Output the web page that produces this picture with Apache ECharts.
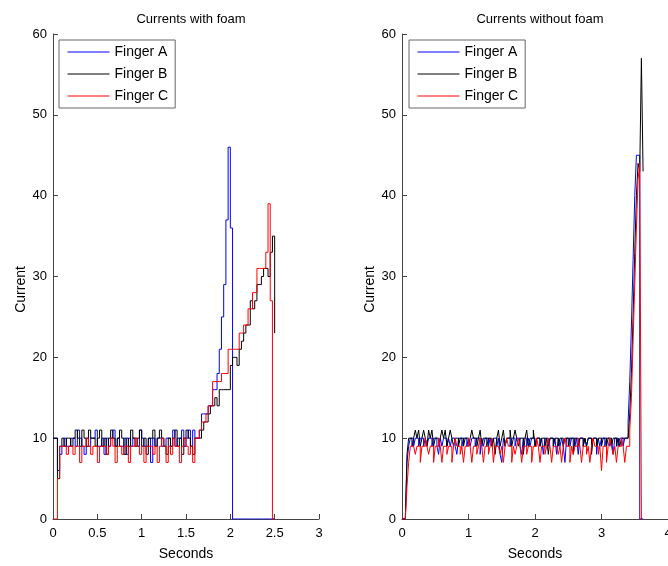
<!DOCTYPE html>
<html>
<head>
<meta charset="utf-8">
<script src="https://cdn.jsdelivr.net/npm/echarts@6/dist/echarts.min.js"></script>
<style>
  html, body { margin: 0; padding: 0; background: #fff; }
  #chart { width: 668px; height: 566px; }
</style>
</head>
<body>
<div id="chart"></div>
<script>
// sample interval of the current readings (s)
var DT = 0.025;

var seriesNames = ['Finger A', 'Finger B', 'Finger C'];
var seriesColors = ['#0000ff', '#000000', '#ff0000'];

// tick labels
var xTicksLeft = [0, 0.5, 1, 1.5, 2, 2.5, 3];
var xTicksRight = [0, 1, 2, 3, 4];
var yTicks = [0, 10, 20, 30, 40, 50, 60];

// ---- with foam (one value every DT, from t=0) ----
var foamA = [
  10,10,6,8,9,10,9,9,10,10,
  9,11,10,9,8,10,9,10,10,11,
  9,9,10,8,10,9,10,11,9,10,
  9,9,10,8,10,9,10,10,9,11,
  10,9,9,10,7,10,9,10,10,9,
  9,10,10,9,11,9,10,10,11,9,
  10,11,9,11,10,10,11,13,13,13,
  14,14,16,16,18,21,25,29,37,46,
  36,0,0,0,0,0,0,0,0,0,
  0,0,0,0,0,0,0,0,0,0,
  0
];
var foamB = [
  10,10,5,9,10,9,10,10,9,10,
  11,10,9,11,10,9,11,10,10,9,
  10,11,9,10,8,10,11,10,9,10,
  11,10,8,10,9,11,10,9,10,11,
  9,10,8,10,10,11,9,10,11,10,
  9,8,10,9,10,11,9,10,8,10,
  11,10,9,8,10,10,10,11,12,12,
  13,14,14,15,14,16,16,16,16,16,
  19,20,20,19,21,22,23,24,24,27,
  26,27,29,29,30,31,31,30,33,35,
  23
];
var foamC = [
  0,0,5,9,9,9,8,9,9,8,
  9,9,7,9,9,10,9,8,9,9,
  7,9,9,9,8,9,10,9,7,9,
  9,8,9,9,7,9,9,10,9,8,
  9,7,9,9,9,8,9,7,9,10,
  9,7,9,8,10,9,9,7,9,10,
  9,8,9,7,10,10,11,12,12,13,
  14,14,17,17,17,17,18,18,18,21,
  21,21,21,21,23,23,24,24,26,26,
  28,28,31,31,31,31,33,39,27,0,
  0
];

// ---- without foam ----
var noFoamA = [
  0,0,0,7,9,10,10,9,10,10,
  9,10,10,9,10,9,10,10,9,10,
  10,9,8,10,9,10,10,9,10,9,
  10,10,9,8,10,10,9,10,10,9,
  10,9,10,10,9,10,10,8,10,9,
  10,10,9,10,9,10,10,9,10,8,
  7,10,9,10,10,9,10,10,9,10,
  10,9,8,10,10,9,10,9,10,10,
  9,10,10,9,10,8,10,10,9,10,
  10,9,10,8,10,9,10,9,7,10,
  10,9,10,10,9,10,8,10,10,9,
  10,9,10,10,9,10,10,8,10,9,
  10,10,9,10,10,9,10,8,10,10,
  9,10,10,9,10,10,12,17,24,32,
  40,45,45,0,0,0
];
var noFoamB = [
  0,0,0,8,10,10,9,10,11,10,
  11,9,10,11,10,9,11,10,11,9,
  10,10,9,10,11,10,11,9,10,11,
  10,9,10,10,9,10,10,9,10,10,
  9,10,11,10,10,9,10,11,9,10,
  10,9,10,10,9,10,8,10,11,9,
  10,11,9,10,10,11,9,10,11,10,
  9,10,10,8,10,11,9,10,10,11,
  9,10,10,9,10,10,9,10,8,10,
  10,9,10,10,9,10,10,9,10,10,
  9,10,10,8,10,10,9,10,10,9,
  10,9,10,10,8,10,10,9,10,10,
  9,10,10,9,10,10,9,10,10,9,
  10,9,10,10,10,10,10,13,18,25,
  33,40,44,43,57,43
];
var noFoamC = [
  0,0,0,4,7,9,9,9,8,9,
  9,7,9,9,10,9,8,9,9,7,
  9,9,10,9,7,9,9,8,9,9,
  7,9,10,9,9,8,9,7,9,9,
  10,9,7,9,9,8,9,10,9,7,
  9,9,8,9,10,7,9,9,9,8,
  9,7,9,10,9,9,7,9,8,9,
  10,9,7,9,9,8,9,9,7,9,
  9,10,9,7,9,9,8,9,10,9,
  7,9,9,9,8,9,7,9,10,9,
  9,7,9,8,9,9,10,9,7,9,
  9,8,9,7,9,10,9,9,8,9,
  6,9,9,7,9,10,9,8,9,7,
  9,9,10,9,7,9,9,11,15,22,
  29,36,42,44,0,0
];

var FONT = 'Liberation Sans, Arial, Helvetica, sans-serif';

function toPoints(vals) {
  var pts = [];
  for (var i = 0; i < vals.length; i++) {
    pts.push([+(i * DT).toFixed(3), vals[i]]);
  }
  return pts;
}

function makeSeries(vals, k, idx) {
  return {
    name: seriesNames[k],
    type: 'line',
    step: 'end',
    xAxisIndex: idx,
    yAxisIndex: idx,
    symbol: 'none',
    lineStyle: { color: seriesColors[k], width: 1 },
    itemStyle: { color: seriesColors[k] },
    data: toPoints(vals)
  };
}

function makeXAxis(ticks, idx) {
  return {
    type: 'value',
    gridIndex: idx,
    min: ticks[0],
    max: ticks[ticks.length - 1],
    interval: ticks[1] - ticks[0],
    name: 'Seconds',
    nameLocation: 'middle',
    nameGap: 28,
    nameTextStyle: { fontSize: 14, color: '#000', fontFamily: FONT },
    axisLine: { show: true, lineStyle: { color: '#444', width: 1 } },
    axisTick: { show: true, inside: true, length: 5, lineStyle: { color: '#444' } },
    axisLabel: { fontSize: 13, color: '#000', fontFamily: FONT, margin: 8 },
    splitLine: { show: false }
  };
}

function makeYAxis(idx) {
  return {
    type: 'value',
    gridIndex: idx,
    min: yTicks[0],
    max: yTicks[yTicks.length - 1],
    interval: yTicks[1] - yTicks[0],
    name: 'Current',
    nameLocation: 'middle',
    nameGap: 25,
    nameTextStyle: { fontSize: 14, color: '#000', fontFamily: FONT, padding: [0, 26, 0, 0] },
    axisLine: { show: true, lineStyle: { color: '#444', width: 1 } },
    axisTick: { show: true, inside: true, length: 5, lineStyle: { color: '#444' } },
    axisLabel: { fontSize: 13, color: '#000', fontFamily: FONT, margin: 6 },
    splitLine: { show: false }
  };
}

function makeLegend(left) {
  return {
    data: seriesNames,
    orient: 'vertical',
    left: left,
    top: 40,
    itemWidth: 42,
    itemHeight: 14,
    itemGap: 8,
    padding: [5, 7, 5, 8],
    borderColor: '#666',
    borderWidth: 1,
    backgroundColor: '#fff',
    selectedMode: false,
    itemStyle: { opacity: 0 },
    lineStyle: { width: 1 },
    textStyle: { fontSize: 14, color: '#000', fontFamily: FONT }
  };
}

var chart = echarts.init(document.getElementById('chart'));
chart.setOption({
  animation: false,
  backgroundColor: '#fff',
  title: [
    { text: 'Currents with foam', left: 186, top: 8, textAlign: 'center',
      textStyle: { fontSize: 13, fontWeight: 'normal', color: '#000', fontFamily: FONT } },
    { text: 'Currents without foam', left: 535, top: 8, textAlign: 'center',
      textStyle: { fontSize: 13, fontWeight: 'normal', color: '#000', fontFamily: FONT } }
  ],
  legend: [makeLegend(59), makeLegend(409)],
  // keep plot areas fixed, the "4" label may run off the right edge
  grid: [
    { left: 53, right: 349, top: 34, bottom: 47, outerBoundsMode: 'none' },
    { left: 402, right: 0, top: 34, bottom: 47, outerBoundsMode: 'none' }
  ],
  xAxis: [makeXAxis(xTicksLeft, 0), makeXAxis(xTicksRight, 1)],
  yAxis: [makeYAxis(0), makeYAxis(1)],
  series: [
    makeSeries(foamA, 0, 0),
    makeSeries(foamB, 1, 0),
    makeSeries(foamC, 2, 0),
    makeSeries(noFoamA, 0, 1),
    makeSeries(noFoamB, 1, 1),
    makeSeries(noFoamC, 2, 1)
  ]
});
</script>
</body>
</html>
